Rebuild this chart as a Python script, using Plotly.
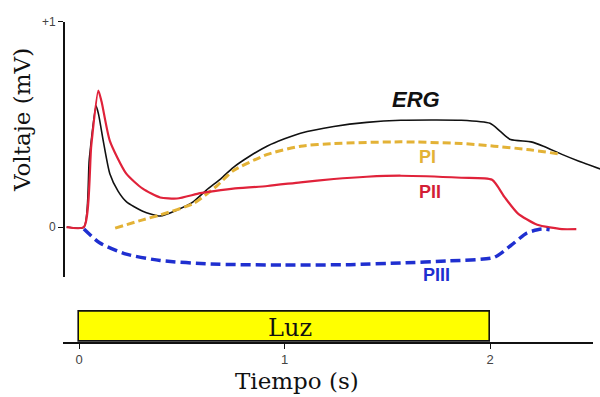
import plotly.graph_objects as go

# ---------------- data ----------------
erg_t = [-0.06, 0.024, 0.05, 0.083, 0.095, 0.118, 0.15, 0.19, 0.23, 0.31, 0.395, 0.477, 0.557, 0.62, 0.69,
         0.75, 0.83, 0.917, 1.0, 1.078, 1.24, 1.40, 1.566, 1.86, 2.0, 2.05, 2.10, 2.2, 2.26, 2.35, 2.43, 2.54]
erg_v = [0.0, 0.0, 0.33, 0.59, 0.55, 0.42, 0.26, 0.175, 0.124, 0.077, 0.054, 0.083, 0.124, 0.18, 0.235,
         0.29, 0.345, 0.395, 0.43, 0.457, 0.49, 0.51, 0.52, 0.52, 0.505, 0.466, 0.426, 0.415, 0.394, 0.354, 0.322, 0.282]

pii_t = [-0.06, 0.024, 0.06, 0.094, 0.11, 0.15, 0.23, 0.31, 0.395, 0.477, 0.59, 0.69, 0.75, 0.917,
         1.078, 1.24, 1.40, 1.566, 1.86, 2.01, 2.07, 2.135, 2.23, 2.35, 2.42]
pii_v = [0.0, 0.0, 0.40, 0.665, 0.61, 0.42, 0.26, 0.187, 0.144, 0.139, 0.165, 0.180, 0.187, 0.20,
         0.218, 0.234, 0.245, 0.25, 0.24, 0.23, 0.147, 0.067, 0.011, -0.01, -0.01]

pi_t = [0.176, 0.31, 0.395, 0.557, 0.67, 0.75, 0.917, 1.078, 1.24, 1.566, 1.86, 2.02, 2.18, 2.35]
pi_v = [-0.005, 0.035, 0.059, 0.115, 0.20, 0.274, 0.354, 0.394, 0.407, 0.415, 0.407, 0.394, 0.378, 0.354]

piii_t = [0.024, 0.10, 0.23, 0.395, 0.64, 1.0, 1.32, 1.566, 1.8, 2.02, 2.10, 2.18, 2.25, 2.29]
piii_v = [-0.01, -0.077, -0.132, -0.163, -0.18, -0.185, -0.183, -0.175, -0.165, -0.148, -0.091, -0.029, -0.01, -0.013]

light_start = 0.0
light_end = 2.0
light_label = "Luz"

y_tick_vals = [0, 1]
y_tick_text = ["0", "+1"]
x_tick_vals = [0, 1, 2]
x_tick_text = ["0", "1", "2"]

# ---------------- layout helpers ----------------
W, H = 600, 397
T0_PX, SEC_PX = 79, 205.5
ZERO_PY, MV_PX = 224, 209


def fx(px):
    return px / W


def fy(py):
    return 1 - py / H


def t_of(px):
    return (px - T0_PX) / SEC_PX


def v_of(py):
    return (ZERO_PY - py) / MV_PX


SERIF = "DejaVu Serif"
SANS = "Liberation Sans, Arial, sans-serif"

fig = go.Figure()

fig.add_trace(go.Scatter(x=erg_t, y=erg_v, mode="lines", line=dict(color="#111111", width=1.6, shape="spline", smoothing=0.6),
                         xaxis="x", yaxis="y", hoverinfo="skip"))
fig.add_trace(go.Scatter(x=pi_t, y=pi_v, mode="lines", line=dict(color="#e3b236", width=3, dash="8px,4px", shape="spline", smoothing=0.6),
                         xaxis="x", yaxis="y", hoverinfo="skip"))
fig.add_trace(go.Scatter(x=pii_t, y=pii_v, mode="lines", line=dict(color="#e0223a", width=2.2, shape="spline", smoothing=0.6),
                         xaxis="x", yaxis="y", hoverinfo="skip"))
fig.add_trace(go.Scatter(x=piii_t, y=piii_v, mode="lines", line=dict(color="#1f2fd0", width=3.5, dash="10px,5px", shape="spline", smoothing=0.6),
                         xaxis="x", yaxis="y", hoverinfo="skip"))

# light stimulus bar
fig.add_trace(go.Bar(x=[(light_start + light_end) / 2], y=[1], base=[0], width=[light_end - light_start],
                     marker=dict(color="#ffff00", line=dict(color="#111111", width=1.6)),
                     xaxis="x2", yaxis="y2", hoverinfo="skip"))

annotations = [
    dict(text="<b><i>ERG</i></b>", x=fx(416), y=fy(94), xref="paper", yref="paper", showarrow=False,
         font=dict(family=SANS, size=22, color="#111111"), xanchor="center", yanchor="middle"),
    dict(text="<b>PI</b>", x=fx(427), y=fy(153), xref="paper", yref="paper", showarrow=False,
         font=dict(family=SANS, size=18, color="#e3b236"), xanchor="center", yanchor="middle"),
    dict(text="<b>PII</b>", x=fx(430), y=fy(188), xref="paper", yref="paper", showarrow=False,
         font=dict(family=SANS, size=18, color="#d41e36"), xanchor="center", yanchor="middle"),
    dict(text="<b>PIII</b>", x=fx(436), y=fy(273), xref="paper", yref="paper", showarrow=False,
         font=dict(family=SANS, size=18, color="#1f2fd0"), xanchor="center", yanchor="middle"),
    dict(text=light_label, x=fx(290), y=fy(327), xref="paper", yref="paper", showarrow=False,
         font=dict(family=SERIF, size=24, color="#111111"), xanchor="center", yanchor="middle"),
    dict(text="Tiempo (s)", x=fx(297), y=fy(381), xref="paper", yref="paper", showarrow=False,
         font=dict(family=SERIF, size=23, color="#111111"), xanchor="center", yanchor="middle"),
    dict(text="Voltaje (mV)", x=fx(22), y=fy(115), xref="paper", yref="paper", showarrow=False, textangle=-90,
         font=dict(family=SERIF, size=23, color="#111111"), xanchor="center", yanchor="middle"),
]

fig.update_layout(
    width=W, height=H,
    margin=dict(l=0, r=0, t=0, b=0),
    paper_bgcolor="white", plot_bgcolor="white",
    showlegend=False,
    annotations=annotations,
    xaxis=dict(domain=[fx(65), 1], range=[t_of(65), t_of(600)], visible=False, anchor="y"),
    yaxis=dict(domain=[fy(275), fy(15)], range=[v_of(275), v_of(15)], anchor="x",
               showline=True, linecolor="#111111", linewidth=1.6, showgrid=False, zeroline=False,
               tickvals=y_tick_vals, ticktext=y_tick_text, ticks="outside", ticklen=5, tickwidth=1.4,
               tickcolor="#111111", tickfont=dict(family=SANS, size=12, color="#444444")),
    xaxis2=dict(domain=[fx(63), fx(593)], range=[t_of(63), t_of(593)], anchor="y2",
                showline=True, linecolor="#111111", linewidth=1.6, showgrid=False, zeroline=False,
                tickvals=x_tick_vals, ticktext=x_tick_text, ticks="outside", ticklen=5, tickwidth=1.4,
                tickcolor="#111111", tickfont=dict(family=SANS, size=13, color="#444444")),
    yaxis2=dict(domain=[fy(341), fy(301)], range=[0, 40 / 31], visible=False, anchor="x2"),
    bargap=0,
)

fig.write_html("out.html", config={"displayModeBar": False},
               post_script="document.body.style.margin='0px';document.body.style.overflow='hidden';")
